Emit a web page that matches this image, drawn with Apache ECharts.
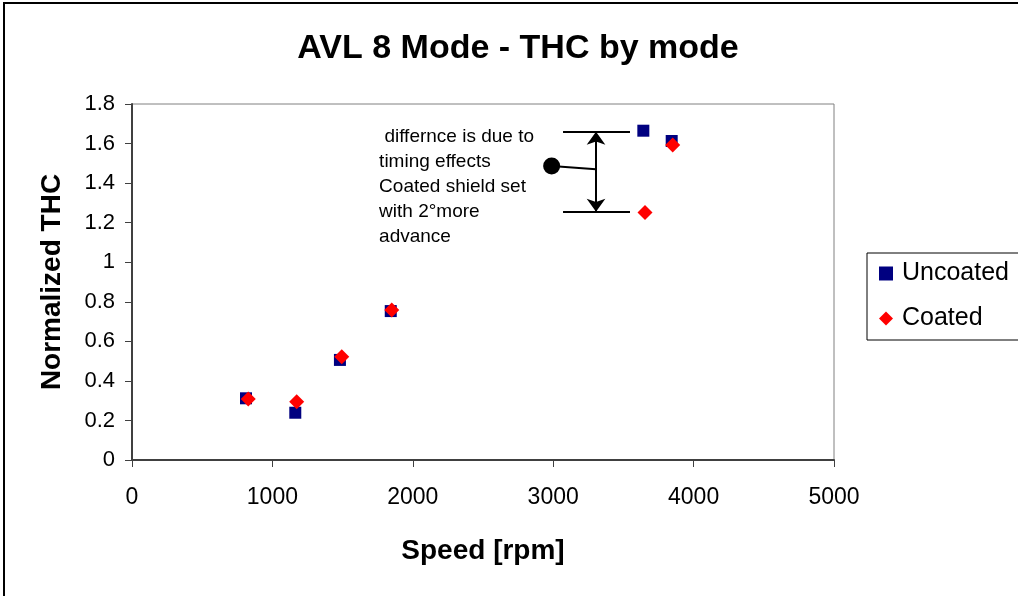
<!DOCTYPE html>
<html>
<head>
<meta charset="utf-8">
<script src="https://cdn.jsdelivr.net/npm/echarts@6/dist/echarts.min.js"></script>
<style>
  html, body { margin: 0; padding: 0; background: #fff; }
  #chart { width: 1018px; height: 596px; }
</style>
</head>
<body>
<div id="chart"></div>
<script>
// Speed [rpm] and normalized THC for each AVL 8 mode point
const uncoatedSpeed = [812, 1163, 1481, 1843, 3642, 3844];
const uncoatedTHC   = [0.312, 0.239, 0.506, 0.753, 1.665, 1.613];
const coatedSpeed   = [828, 1173, 1494, 1850, 3654, 3851];
const coatedTHC     = [0.308, 0.295, 0.522, 0.758, 1.252, 1.593];

const xTicks = { min: 0, max: 5000, interval: 1000 };
const yTicks = { min: 0, max: 1.8, interval: 0.2 };

// Callout: bracket between the two high-speed readings
const noteLines = [' differnce is due to', 'timing effects', 'Coated shield set', 'with 2\u00b0more', 'advance'];
const bracketX = [3070, 3547];   // horizontal tick extents
const arrowX = 3305;
const bracketTop = 1.660;
const bracketBottom = 1.255;
const dotPoint = [2989, 1.486];
const dotJoin = [3305, 1.470];
const noteAnchor = [1760, 1.700];

const font = 'Liberation Sans, Arial, sans-serif';

const chart = echarts.init(document.getElementById('chart'), null, { renderer: 'canvas' });

const zip = (xs, ys) => xs.map((x, i) => [x, ys[i]]);

const lineStyle = { color: '#000', width: 2, type: 'solid' };

const frame = {
  type: 'rect', silent: true, z: 100,
  shape: { x: 4, y: 3, width: 1100, height: 700 },
  style: { fill: 'none', stroke: '#000', lineWidth: 2 }
};

chart.setOption({
  animation: false,
  backgroundColor: '#fff',
  title: {
    text: 'AVL 8 Mode - THC by mode',
    left: 513, top: 27, textAlign: 'center',
    textStyle: { fontFamily: font, fontWeight: 'bold', fontSize: 34, color: '#000' }
  },
  grid: {
    left: 132, top: 104, width: 702, height: 356,
    show: true, borderColor: '#808080', borderWidth: 1, backgroundColor: '#fff'
  },
  legend: {
    orient: 'vertical',
    left: 867, top: 253,
    padding: [8, 40, 9, 12],
    itemGap: 20,
    itemWidth: 14, itemHeight: 14,
    borderColor: '#000', borderWidth: 1,
    textStyle: { fontFamily: font, fontSize: 25, color: '#000', padding: [0, 0, 0, 4] },
    data: [
      { name: 'Uncoated', icon: 'rect', itemStyle: { color: '#000080', opacity: 1 } },
      { name: 'Coated', icon: 'diamond', itemStyle: { color: '#ff0000', opacity: 1 } }
    ]
  },
  xAxis: {
    type: 'value',
    min: xTicks.min, max: xTicks.max, interval: xTicks.interval,
    name: 'Speed [rpm]', nameLocation: 'middle', nameGap: 77,
    nameTextStyle: { fontFamily: font, fontWeight: 'bold', fontSize: 28, color: '#000' },
    axisLine: { show: true, onZero: false, lineStyle: { color: '#404040', width: 2 } },
    axisTick: { show: true, length: 7, lineStyle: { color: '#404040', width: 1 } },
    axisLabel: { fontFamily: font, fontSize: 23, color: '#000', margin: 26, formatter: v => String(v) },
    splitLine: { show: false }
  },
  yAxis: {
    type: 'value',
    min: yTicks.min, max: yTicks.max, interval: yTicks.interval,
    name: 'Normalized THC', nameLocation: 'middle', nameGap: 66, nameRotate: 90,
    nameTextStyle: { fontFamily: font, fontWeight: 'bold', fontSize: 28, color: '#000' },
    axisLine: { show: true, onZero: false, lineStyle: { color: '#404040', width: 2 } },
    axisTick: { show: true, length: 7, lineStyle: { color: '#404040', width: 1 } },
    axisLabel: {
      fontFamily: font, fontSize: 22, color: '#000', margin: 17,
      formatter: v => String(+v.toFixed(1))
    },
    splitLine: { show: false }
  },
  series: [
    {
      name: 'Uncoated', type: 'scatter',
      symbol: 'rect', symbolSize: 12,
      itemStyle: { color: '#000080', opacity: 1 },
      data: zip(uncoatedSpeed, uncoatedTHC),
      z: 2
    },
    {
      name: 'Coated', type: 'scatter',
      symbol: 'diamond', symbolSize: 15,
      itemStyle: { color: '#ff0000', opacity: 1 },
      data: zip(coatedSpeed, coatedTHC),
      z: 3
    },
    {
      name: 'note', type: 'scatter',
      symbol: 'circle', symbolSize: 17,
      itemStyle: { color: '#000', opacity: 1 },
      data: [dotPoint],
      silent: true,
      z: 4,
      markLine: {
        silent: true, animation: false,
        label: { show: false },
        lineStyle: lineStyle,
        symbol: ['none', 'none'],
        data: [
          [{ coord: [bracketX[0], bracketTop] }, { coord: [bracketX[1], bracketTop] }],
          [{ coord: [bracketX[0], bracketBottom] }, { coord: [bracketX[1], bracketBottom] }],
          [{ coord: dotPoint }, { coord: dotJoin }],
          [
            { coord: [arrowX, bracketTop], symbol: 'arrow', symbolSize: [14, 13] },
            { coord: [arrowX, bracketBottom], symbol: 'arrow', symbolSize: [14, 13] }
          ]
        ]
      }
    }
  ],
  graphic: [frame]
});

// Place the callout text block relative to the data scale
const p = chart.convertToPixel({ gridIndex: 0 }, noteAnchor);
chart.setOption({
  graphic: [
    frame,
    {
      type: 'text', silent: true, z: 50,
      x: p[0], y: p[1],
      style: {
        text: noteLines.join('\n'),
        fontFamily: font, fontSize: 19, lineHeight: 25,
        fill: '#000', align: 'left', verticalAlign: 'top'
      }
    }
  ]
});
</script>
</body>
</html>
